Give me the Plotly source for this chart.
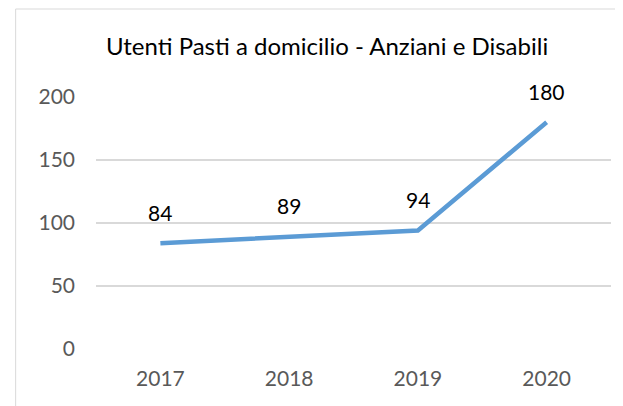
import plotly.graph_objects as go

years = ["2017", "2018", "2019", "2020"]
users = [84, 89, 94, 180]
y_ticks = [0, 50, 100, 150, 200]
title_text = "Utenti Pasti a domicilio - Anziani e Disabili"

W, H = 623, 406
OFF = 8  # page body margin
# target screenshot positions
plot_left, plot_right, plot_top, plot_bottom = 95.5, 611.5, 97, 349
L = plot_left - OFF
R = W - (plot_right - OFF)
T = plot_top - OFF
B = H - (plot_bottom - OFF)
FONT = "Lato, sans-serif"

fig = go.Figure()
fig.add_trace(go.Scatter(
    x=list(range(len(years))), y=users, mode="lines",
    line=dict(color="#5B9BD5", width=4.5),
    hoverinfo="skip", showlegend=False,
))

for i, yv in enumerate(users):
    fig.add_annotation(x=i, y=yv, text=str(yv), showarrow=False,
                       yshift=31, font=dict(family=FONT, size=21, color="#000000"))

pw = W - L - R
ph = H - T - B
fig.add_shape(type="rect", xref="paper", yref="paper",
              x0=(15 - plot_left) / pw, x1=2, y0=-2, y1=(plot_bottom - 9) / ph,
              line=dict(color="#D9D9D9", width=1), fillcolor="rgba(0,0,0,0)", layer="below")

fig.update_layout(
    width=W, height=H,
    margin=dict(l=L, r=R, t=T, b=B),
    paper_bgcolor="white", plot_bgcolor="white",
    title=dict(text=title_text, x=(327 - plot_left) / pw, xref="paper", xanchor="center",
               y=(H - (47 - OFF)) / H, yanchor="middle",
               font=dict(family=FONT, size=24, color="#000000")),
    xaxis=dict(range=[-0.5, len(years) - 0.5], tickvals=list(range(len(years))), ticktext=years,
               showgrid=False, zeroline=False, showline=False,
               ticks="", tickfont=dict(family=FONT, size=21, color="#595959"),
               ticklabelstandoff=15),
    yaxis=dict(range=[0, 200], tickvals=y_ticks, showgrid=True, gridcolor="#D9D9D9",
               gridwidth=1.5, zeroline=False, showline=False, ticks="",
               tickfont=dict(family=FONT, size=21, color="#595959"),
               ticklabelstandoff=20),
)

fig.write_html("out.html")
